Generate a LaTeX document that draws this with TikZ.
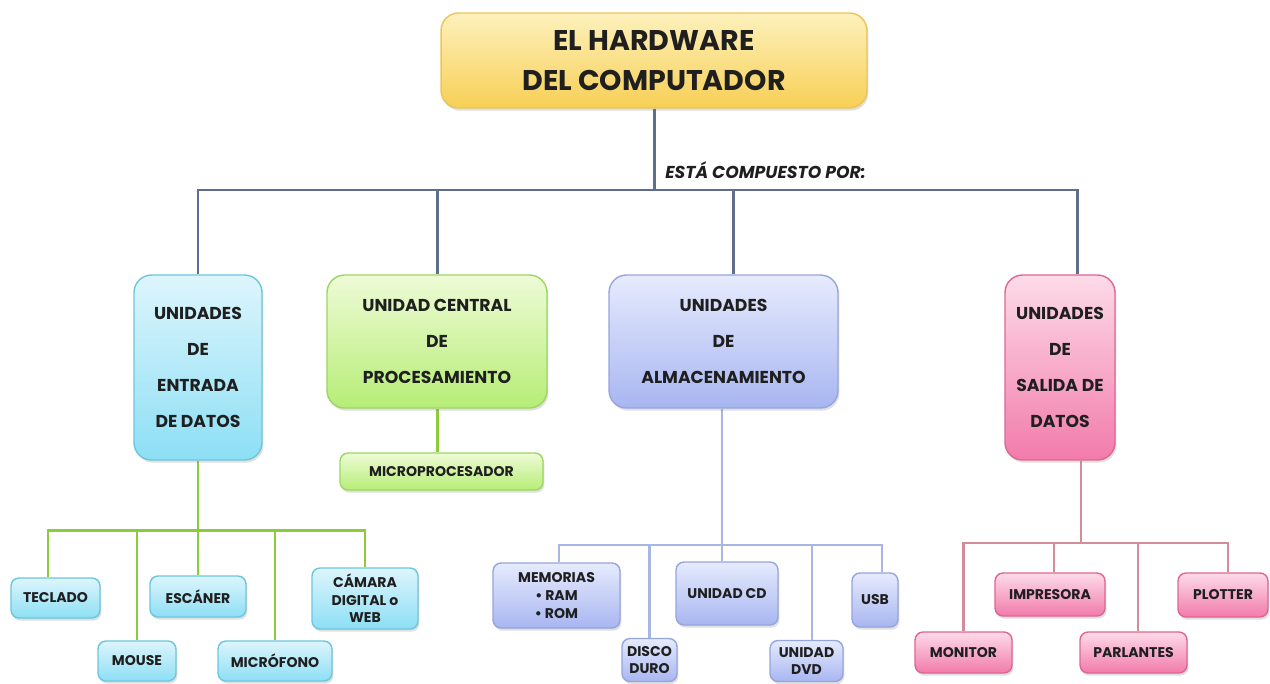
\documentclass[tikz,border=0pt]{standalone}
\usepackage{fontspec}
\setmainfont{Poppins}
\usetikzlibrary{shadows,backgrounds,calc}
\definecolor{lineTop}{HTML}{5E6E8C}
\definecolor{lineGreen}{HTML}{8CCB3A}
\definecolor{lineLav}{HTML}{A9B5E2}
\definecolor{linePink}{HTML}{D58C9A}
\definecolor{yTop}{HTML}{FDF1BC}
\definecolor{yBot}{HTML}{F7CF55}
\definecolor{yBrd}{HTML}{EBC45A}
\definecolor{bTop}{HTML}{DDF5FC}
\definecolor{bBot}{HTML}{8DDFF5}
\definecolor{bBrd}{HTML}{6CC6DF}
\definecolor{gTop}{HTML}{EEFBD6}
\definecolor{gBot}{HTML}{B6ED76}
\definecolor{gBrd}{HTML}{9CD663}
\definecolor{lTop}{HTML}{E6EBFD}
\definecolor{lBot}{HTML}{A8B6F1}
\definecolor{lBrd}{HTML}{96A5DC}
\definecolor{pTop}{HTML}{FDDBE8}
\definecolor{pBot}{HTML}{F27BAB}
\definecolor{pBrd}{HTML}{DE6692}
\tikzset{
  base/.style={rounded corners=0.35cm, draw, line width=0.8pt, align=center,
    inner sep=0pt, text=black!88,
    drop shadow={shadow xshift=0.8pt, shadow yshift=-1.5pt, opacity=0.25}},
  small/.style={base, rounded corners=0.16cm, font=\bfseries\fontsize{8}{10}\selectfont},
  bigtxt/.style={font=\bfseries\fontsize{9.8}{20.5}\selectfont},
  ybox/.style={base, top color=yTop, bottom color=yBot, draw=yBrd},
  bbox/.style={top color=bTop, bottom color=bBot, draw=bBrd},
  gbox/.style={top color=gTop, bottom color=gBot, draw=gBrd},
  lbox/.style={top color=lTop, bottom color=lBot, draw=lBrd},
  pbox/.style={top color=pTop, bottom color=pBot, draw=pBrd},
  ctop/.style={draw=lineTop, line width=1.7pt},
  cgreen/.style={draw=lineGreen, line width=1.7pt},
  clav/.style={draw=lineLav, line width=1.3pt},
  cpink/.style={draw=linePink, line width=1.3pt},
}
\begin{document}
\begin{tikzpicture}[x=0.02cm,y=-0.02cm]
\useasboundingbox (0,0) rectangle (1270,683);
% title
\node[ybox, minimum width=8.52cm, minimum height=1.9cm, font=\bfseries\fontsize{16.2}{22.5}\selectfont] (title) at (654,60.5) {EL HARDWARE\\DEL COMPUTADOR};
\node[anchor=west, inner sep=0pt, font=\bfseries\itshape\fontsize{9.8}{11}\selectfont, text=black!88] (lbl) at (665,170) {ESTÁ COMPUESTO POR:};
% main boxes
\node[base, bbox, bigtxt, minimum width=2.56cm, minimum height=3.7cm] (in) at (198,367.5) {UNIDADES\\DE\\ENTRADA\\DE DATOS};
\node[base, gbox, bigtxt, minimum width=4.4cm, minimum height=2.66cm] (cpu) at (437,341.5) {UNIDAD CENTRAL\\DE\\PROCESAMIENTO};
\node[base, lbox, bigtxt, minimum width=4.58cm, minimum height=2.66cm] (st) at (723.5,341.5) {UNIDADES\\DE\\ALMACENAMIENTO};
\node[base, pbox, bigtxt, minimum width=2.2cm, minimum height=3.7cm] (out) at (1060,367.5) {UNIDADES\\DE\\SALIDA DE\\DATOS};
% cpu child
\node[small, gbox, minimum width=4.06cm, minimum height=0.74cm] (micro) at (441.5,471.5) {MICROPROCESADOR};
% input children
\node[small, bbox, minimum width=1.78cm, minimum height=0.8cm] (tec) at (55.5,598) {TECLADO};
\node[small, bbox, minimum width=1.56cm, minimum height=0.8cm] (mou) at (137,661) {MOUSE};
\node[small, bbox, minimum width=1.92cm, minimum height=0.82cm] (esc) at (198,596.5) {ESCÁNER};
\node[small, bbox, minimum width=2.28cm, minimum height=0.8cm] (mic) at (275,661) {MICRÓFONO};
\node[small, bbox, minimum width=2.12cm, minimum height=1.22cm] (cam) at (365,598.5) {CÁMARA\\DIGITAL o\\WEB};
% storage children
\node[small, lbox, minimum width=2.54cm, minimum height=1.3cm] (mem) at (556.5,595.5) {MEMORIAS\\\textbullet\ RAM\\\textbullet\ ROM};
\node[small, lbox, minimum width=1.1cm, minimum height=0.86cm] (hdd) at (649.5,660) {DISCO\\DURO};
\node[small, lbox, minimum width=2.04cm, minimum height=1.26cm] (cd) at (727,593.5) {UNIDAD CD};
\node[small, lbox, minimum width=1.46cm, minimum height=0.82cm] (dvd) at (806.5,661) {UNIDAD\\DVD};
\node[small, lbox, minimum width=0.92cm, minimum height=1.08cm] (usb) at (875,600) {USB};
% output children
\node[small, pbox, minimum width=1.94cm, minimum height=0.82cm] (mon) at (963.5,652.5) {MONITOR};
\node[small, pbox, minimum width=2.2cm, minimum height=0.86cm] (imp) at (1050,594.5) {IMPRESORA};
\node[small, pbox, minimum width=2.14cm, minimum height=0.82cm] (par) at (1133.5,652.5) {PARLANTES};
\node[small, pbox, minimum width=1.8cm, minimum height=0.88cm] (plo) at (1223,595) {PLOTTER};
% hubs
\coordinate (hub) at (654,190);
\coordinate (bhub) at (198,530);
\coordinate (lhub) at (722,545);
\coordinate (phub) at (1081,543);
\begin{pgfonlayer}{background}
\draw[ctop] (title.south) -- (hub);
\draw[ctop] (hub) -| (in.north);
\draw[ctop] (hub) -| (cpu.north);
\draw[ctop] (hub) -| ($(st.north)+(9.5,0)$);
\draw[ctop] (hub) -| ($(out.north)+(17,0)$);
\draw[cgreen] (cpu.south) -- (cpu.south |- micro.north);
\draw[cgreen] (in.south) -- (bhub);
\draw[cgreen] (bhub) -| ($(tec.north)+(-7.5,0)$);
\draw[cgreen] (bhub) -| (mou.north);
\draw[cgreen] (bhub) -| (esc.north);
\draw[cgreen] (bhub) -| (mic.north);
\draw[cgreen] (bhub) -| (cam.north);
\draw[clav] (st.south -| lhub) -- (lhub);
\draw[clav] (lhub) -| ($(mem.north)+(2.5,0)$);
\draw[clav] (lhub) -| (hdd.north);
\draw[clav] (lhub) -| (cd.north -| lhub);
\draw[clav] (lhub) -| ($(dvd.north)+(5.5,0)$);
\draw[clav] (lhub) -| ($(usb.north)+(7,0)$);
\draw[cpink] (out.south -| phub) -- (phub);
\draw[cpink] (phub) -| (mon.north);
\draw[cpink] (phub) -| ($(imp.north)+(4,0)$);
\draw[cpink] (phub) -| ($(par.north)+(4.5,0)$);
\draw[cpink] (phub) -| ($(plo.north)+(5,0)$);
\end{pgfonlayer}
\end{tikzpicture}
\end{document}
